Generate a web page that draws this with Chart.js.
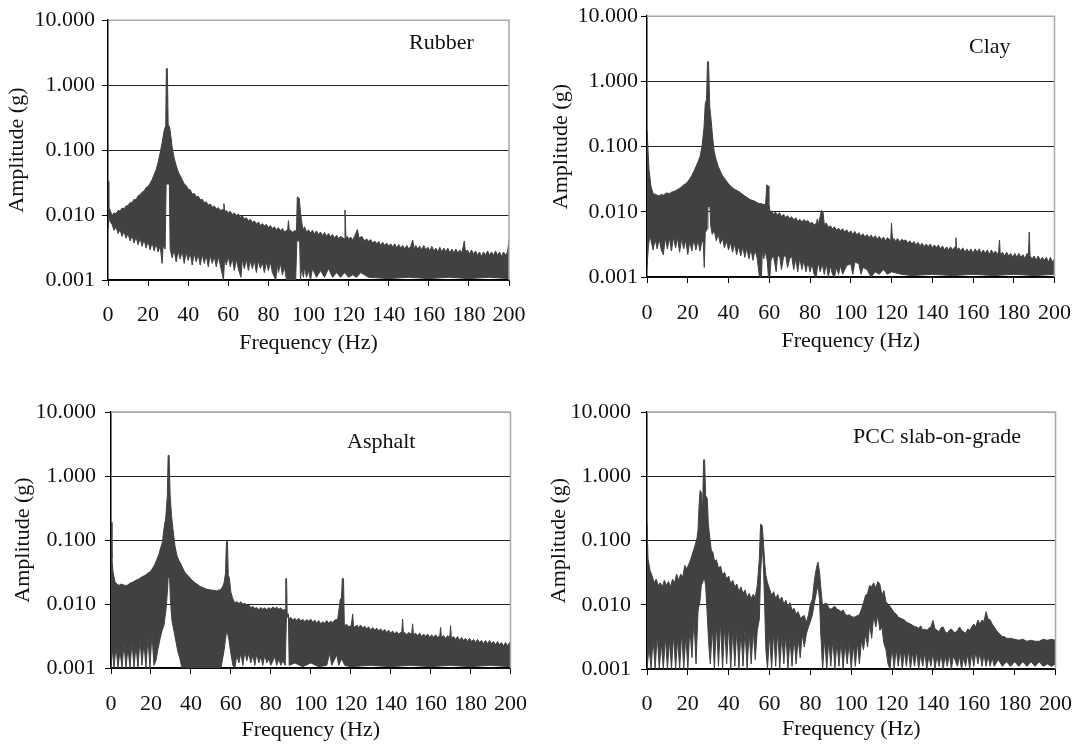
<!DOCTYPE html>
<html>
<head>
<meta charset="utf-8">
<script src="https://cdn.jsdelivr.net/npm/chart.js@4.4.1/dist/chart.umd.min.js"></script>
<style>
  body { margin: 0; background: #fff; }
  #wrap { position: relative; width: 1088px; height: 744px; }
  canvas { position: absolute; }
</style>
</head>
<body>
<div id="wrap">
  <canvas id="rubber" width="544" height="372" style="left:0;top:0"></canvas>
  <canvas id="clay" width="544" height="372" style="left:544px;top:0"></canvas>
  <canvas id="asphalt" width="544" height="372" style="left:0;top:372px"></canvas>
  <canvas id="pcc" width="544" height="372" style="left:544px;top:372px"></canvas>
</div>
<script>
const yTicks = [0.001, 0.01, 0.1, 1, 10];
const xMin = 0, xMax = 200, xStep = 20;

// [Hz, g]: top edge and bottom edge of each dense spectrum
const rubberHigh = [
  [0,0.033],[0.4,0.013],[1,0.012],[2,0.0098],[3,0.0108],[4,0.0105],[5,0.0118],[6,0.0115],[7,0.0128],[8,0.0125],
  [9,0.0138],[10,0.014],[11,0.0155],[12,0.0155],[13,0.0175],[14,0.0172],[15,0.0198],[16,0.0205],[17,0.0225],[18,0.0235],
  [19,0.0265],[20,0.0275],[21,0.031],[22,0.035],[23,0.042],[24,0.05],[25,0.065],[26,0.09],[27,0.13],[28,0.2],
  [28.8,0.24],[29.1,1.8],[29.6,1.8],[30,0.25],[30.8,0.22],[31.5,0.15],[32,0.11],[33,0.075],[34,0.058],[35,0.046],
  [36.5,0.038],[38,0.03],[39,0.0285],[40,0.025],[41,0.0245],[42,0.021],[43,0.0215],[44,0.0192],[45,0.0195],[46,0.0172],
  [47,0.0175],[48,0.0155],[49,0.016],[50,0.0142],[51,0.0148],[52,0.0132],[53,0.0138],[54,0.0124],[55,0.013],[56,0.0118],
  [57.4,0.0122],[57.8,0.015],[58.3,0.0112],[59,0.0118],[60,0.0108],[61,0.0114],[62,0.0102],[63,0.0108],[64,0.0098],[65,0.0104],
  [66,0.0092],[67,0.0097],[68,0.0087],[69,0.0091],[70,0.0081],[71,0.0086],[72,0.0077],[73,0.0081],[74,0.0073],[75,0.0078],
  [76,0.0069],[77,0.0074],[78,0.0068],[79,0.0072],[80,0.0064],[81,0.0069],[82,0.0062],[83,0.0066],[84,0.0059],[85,0.0064],
  [86,0.0057],[87,0.0062],[88,0.0055],[89.6,0.006],[90,0.0082],[90.5,0.0055],[91,0.0059],[92,0.0054],[93,0.0058],[94,0.0056],
  [94.4,0.019],[95.4,0.018],[96,0.011],[96.5,0.0085],[97.2,0.0058],[98,0.0066],[99,0.0055],[100,0.0059],[101,0.0053],[102,0.0058],
  [103,0.0051],[104,0.0057],[105,0.005],[106,0.0055],[107,0.0048],[108,0.0054],[109,0.0047],[110,0.0052],[111,0.0046],[112,0.005],
  [113,0.0044],[114,0.0049],[115,0.0043],[116,0.0047],[117.8,0.0043],[118.2,0.012],[118.7,0.0044],[119.4,0.0047],[120,0.0042],[121,0.0046],
  [122,0.0041],[123,0.0047],[124.4,0.006],[125.2,0.0044],[126.5,0.0047],[128,0.004],[129,0.0043],[130,0.0039],[131,0.0042],[132,0.0037],
  [133,0.004],[134,0.0036],[135,0.0039],[136,0.0034],[137,0.0038],[138,0.0034],[139,0.0037],[140,0.0033],[141,0.0036],[142,0.0032],
  [143,0.0036],[144,0.0031],[145,0.0035],[146,0.0031],[147,0.0034],[148,0.003],[149,0.0034],[150,0.003],[151,0.0033],[152,0.0041],
  [152.6,0.003],[153.5,0.0034],[154.5,0.003],[155.5,0.0033],[156.5,0.0029],[157.5,0.0034],[158.5,0.0029],[159.5,0.0032],[160.5,0.0028],[161.5,0.0033],
  [162.5,0.0028],[163.5,0.0031],[164.5,0.0027],[165.5,0.0032],[166.5,0.0027],[167.5,0.0031],[168.5,0.0027],[169.5,0.0031],[170.5,0.0026],[171.5,0.003],
  [172.5,0.0026],[173.5,0.003],[174.5,0.0026],[175.5,0.0029],[176.5,0.0026],[177.7,0.004],[178.3,0.0027],[179.3,0.0029],[180.3,0.0025],[181.3,0.0029],
  [182.3,0.0025],[183.3,0.0028],[184.3,0.0024],[185.3,0.0027],[186.3,0.0023],[187.3,0.0027],[188.3,0.0024],[189.3,0.0028],[190.3,0.0024],[191.3,0.0027],
  [192.3,0.0024],[193.3,0.0028],[194.3,0.0024],[195.3,0.0027],[196.3,0.0023],[197.3,0.0027],[198.3,0.0024],[199.3,0.0027],[200,0.0042]
];
const rubberLow = [
  [0,0.006],[0.5,0.0095],[1,0.008],[2,0.0072],[3,0.0058],[4,0.0066],[5,0.0052],[6,0.006],[7,0.0047],[8,0.0056],
  [9,0.0044],[10,0.0052],[11,0.004],[12,0.0048],[13,0.0037],[14,0.0046],[15,0.0035],[16,0.0044],[17,0.0033],[18,0.0042],
  [19,0.0031],[20,0.004],[21,0.0029],[22,0.0038],[23,0.0028],[24,0.0036],[25,0.0027],[26,0.0034],[27,0.0018],[27.5,0.0034],
  [28.5,0.003],[29,0.03],[30.6,0.03],[31,0.003],[32,0.0022],[33,0.0029],[34,0.0019],[35,0.0028],[36,0.0021],[37,0.0028],
  [38,0.0018],[39,0.0027],[40,0.002],[41,0.0026],[42,0.0017],[43,0.0026],[44,0.0019],[45,0.0025],[46,0.0017],[47,0.0025],
  [48,0.0018],[49,0.0024],[50,0.0016],[51,0.0024],[52,0.0018],[53,0.0023],[54,0.0016],[55,0.0023],[56,0.0017],[57.6,0.001],
  [58.2,0.0023],[59,0.0017],[60,0.0023],[61,0.0016],[62,0.0022],[63,0.0014],[64,0.0021],[65,0.0015],[66.3,0.0011],[67,0.0021],
  [68,0.0015],[69,0.0021],[70,0.0014],[71,0.002],[72,0.0015],[73,0.002],[74,0.0013],[75,0.002],[76,0.0015],[77,0.0019],
  [78,0.0013],[79,0.0019],[80,0.0014],[81,0.0019],[82,0.0013],[83.7,0.001],[84.4,0.0018],[85,0.0013],[86,0.0018],[87,0.0012],
  [88,0.0016],[89,0.001],[93.6,0.001],[94.2,0.004],[95.6,0.004],[96,0.001],[96.5,0.0015],[97.5,0.0011],[98,0.0016],[99,0.0011],
  [100,0.0014],[101,0.001],[102,0.0015],[104,0.0011],[106,0.0014],[108,0.0011],[110,0.0015],[112,0.0011],[114,0.0013],[116,0.0011],
  [118,0.0013],[120,0.0011],[122,0.0012],[124,0.0011],[126,0.0013],[130,0.0011],[140,0.00105],[150,0.0011],[160,0.00105],[170,0.0011],
  [180,0.00105],[190,0.0011],[200,0.00105]
];

const clayHigh = [
  [0,0.18],[0.5,0.088],[1,0.044],[2,0.024],[3,0.019],[4,0.0185],[5,0.018],[6,0.0175],[7,0.0185],[8,0.018],
  [9,0.019],[10,0.0195],[11,0.019],[12,0.02],[13,0.0205],[14,0.021],[15,0.022],[16,0.023],[17,0.024],[18,0.026],
  [19,0.027],[20,0.029],[21,0.032],[22,0.036],[23,0.042],[24,0.049],[25,0.058],[26,0.07],[27,0.1],[28,0.2],
  [28.6,0.46],[29.2,0.52],[29.7,2.0],[30.2,2.0],[30.8,0.41],[31.5,0.25],[32.2,0.14],[33,0.083],[34,0.062],[35,0.049],
  [36,0.042],[37,0.036],[38.5,0.031],[40,0.027],[41.5,0.024],[43,0.022],[44.5,0.021],[46,0.0195],[48,0.0175],[50,0.0158],
  [51.5,0.015],[53,0.0145],[54.5,0.0135],[56,0.0133],[57,0.013],[58.2,0.013],[58.8,0.026],[59.4,0.025],[59.8,0.014],[60.4,0.0095],
  [61,0.0104],[62,0.0092],[63,0.0099],[64,0.0089],[65,0.0097],[66,0.0085],[67,0.0091],[68,0.0082],[69,0.0087],[70,0.0079],
  [71,0.0084],[72,0.0075],[73,0.0081],[74,0.0071],[75,0.0077],[76,0.007],[77,0.0076],[78,0.0071],[79,0.0073],[80,0.0066],
  [81,0.0069],[82,0.0063],[83.2,0.0067],[83.6,0.0078],[84,0.0063],[85,0.0085],[85.6,0.0105],[86.4,0.0098],[87,0.0064],[88,0.0067],
  [89,0.0058],[90,0.0061],[91,0.0055],[92,0.0059],[93,0.0052],[94,0.0056],[95,0.0051],[96,0.0055],[97,0.0049],[98,0.0053],
  [99,0.0047],[100,0.0051],[101,0.0045],[102,0.005],[103,0.0044],[104,0.0048],[105,0.0042],[106,0.0046],[107,0.0041],[108,0.0045],
  [109,0.004],[110,0.0044],[111,0.0039],[112,0.0043],[113,0.0038],[114,0.0042],[115,0.0037],[116,0.0041],[117,0.0036],[118,0.004],
  [119.6,0.0036],[120,0.0067],[120.5,0.0037],[121.3,0.0039],[122,0.0035],[123,0.0039],[124,0.0034],[125,0.0038],[126,0.0036],[127,0.0037],
  [128,0.0033],[129,0.0036],[130,0.0032],[131,0.0035],[132,0.0031],[133,0.0034],[134,0.003],[135,0.0033],[136,0.0029],[137,0.0032],
  [138,0.0029],[139,0.0032],[140,0.0028],[141,0.0031],[142,0.0028],[143,0.0031],[144,0.0027],[145,0.003],[146,0.0026],[147,0.0029],
  [148,0.0026],[149,0.0029],[150,0.0026],[151.2,0.0029],[151.6,0.004],[152,0.0026],[153,0.0028],[154,0.0025],[155,0.0028],[156,0.0024],
  [157,0.0027],[158,0.0024],[159,0.0027],[160,0.0023],[161,0.0027],[162,0.0024],[163,0.0027],[164,0.0023],[165,0.0026],[166,0.0023],
  [167,0.0026],[168,0.0022],[169,0.0026],[170,0.0023],[171,0.0025],[172,0.0022],[172.6,0.0025],[173,0.0037],[173.4,0.0022],[174.5,0.0024],
  [175.5,0.0021],[176.5,0.0024],[177.5,0.0021],[178.5,0.0023],[179.5,0.002],[180.5,0.0023],[181.5,0.002],[182.5,0.0023],[183.5,0.002],[184.5,0.0022],
  [185.5,0.0019],[186.5,0.0023],[187.2,0.0021],[187.6,0.0049],[188,0.0021],[189,0.0019],[190,0.0021],[191,0.0018],[192,0.0021],[193,0.0018],
  [194,0.002],[195,0.0018],[196,0.002],[197,0.0017],[198,0.002],[199,0.0017],[200,0.0019]
];
const clayLow = [
  [0,0.0014],[0.7,0.003],[1.5,0.0045],[2,0.0036],[3,0.0026],[4,0.0038],[5,0.0027],[6,0.0039],[7,0.0026],[8,0.0022],
  [9,0.004],[10,0.0027],[11,0.004],[12,0.0025],[13,0.0041],[14,0.0028],[15,0.004],[16,0.0024],[17,0.0039],[18,0.0027],
  [19,0.0037],[20,0.0022],[21,0.0036],[22,0.0025],[23,0.0038],[24,0.0026],[25,0.0037],[26,0.0025],[27,0.0036],[27.6,0.0034],
  [28.1,0.0014],[28.6,0.0048],[29.6,0.0055],[29.9,0.012],[30.9,0.012],[31.3,0.006],[32,0.0045],[33,0.0052],[34,0.0036],[35,0.0045],
  [36,0.0032],[37,0.004],[38,0.0028],[39,0.0036],[40,0.0026],[41,0.0034],[42,0.0024],[43,0.0032],[44,0.0022],[45,0.003],
  [46,0.0021],[47,0.0029],[48,0.002],[49,0.0028],[50,0.0019],[51,0.0027],[52,0.0018],[53,0.0026],[54,0.002],[55.2,0.001],
  [56.2,0.001],[56.6,0.0026],[57.3,0.0019],[58,0.0025],[59,0.0018],[59.6,0.001],[60.3,0.001],[60.8,0.0018],[62,0.0022],[63.4,0.0012],
  [64,0.002],[65,0.0022],[66,0.0013],[67,0.002],[68,0.0022],[69,0.0014],[70,0.0019],[71,0.0021],[72,0.0013],[73,0.0019],
  [74,0.0012],[75,0.002],[76,0.0013],[77,0.0018],[78,0.0012],[79,0.0017],[80,0.0012],[81,0.0016],[82,0.0011],[83,0.001],
  [84,0.0017],[85,0.0012],[86,0.0016],[87,0.0011],[88,0.0016],[89,0.001],[90,0.0015],[91,0.0011],[92,0.001],[93,0.0014],
  [94,0.0011],[95,0.0015],[96,0.0011],[98,0.0015],[100,0.0016],[101,0.0011],[102,0.0017],[104,0.0016],[105,0.0011],[106,0.0014],
  [108,0.0013],[110,0.001],[112,0.0012],[114,0.0011],[116,0.0013],[118,0.0011],[120,0.0012],[125,0.0011],[130,0.00105],[140,0.0011],
  [150,0.00105],[160,0.0011],[170,0.00105],[180,0.0011],[190,0.00105],[200,0.0011]
];

const asphaltHigh = [
  [0,0.19],[0.5,0.051],[1,0.032],[2,0.022],[3,0.0205],[4,0.0195],[5,0.0205],[6,0.02],[7,0.0195],[8,0.0195],
  [9,0.0205],[10,0.0215],[11,0.022],[12,0.023],[13,0.024],[14,0.0245],[15,0.026],[16,0.027],[17,0.028],[18,0.0296],
  [19,0.031],[20,0.033],[21,0.037],[22,0.042],[23,0.05],[24,0.06],[25,0.078],[25.8,0.095],[26.5,0.15],[27.4,0.22],
  [28.2,0.5],[28.6,2.1],[29.1,2.1],[29.6,0.5],[30.3,0.24],[31,0.15],[32,0.082],[33,0.057],[34,0.048],[35,0.042],
  [36,0.036],[37,0.031],[38.5,0.028],[40,0.0245],[41.5,0.022],[43,0.0205],[44.5,0.019],[46,0.018],[48,0.017],[50,0.0165],
  [52,0.0163],[53,0.016],[54,0.0165],[55,0.0168],[56,0.019],[56.6,0.0215],[57.3,0.03],[57.8,0.095],[58.3,0.095],[58.7,0.028],
  [59.2,0.026],[60,0.0153],[61,0.012],[62,0.0104],[63,0.0109],[64,0.0102],[65,0.0108],[66,0.0099],[67,0.0103],[68,0.0093],
  [69,0.0097],[70,0.0087],[71,0.0092],[72,0.0085],[73,0.0088],[74,0.0081],[75,0.0088],[76,0.0083],[77,0.0087],[78,0.0081],
  [79,0.0088],[80,0.0083],[81,0.009],[82,0.0085],[83,0.0089],[84,0.0083],[85,0.0087],[86,0.008],[87.2,0.0082],[87.5,0.025],
  [87.9,0.025],[88.2,0.0065],[89,0.0058],[90,0.0062],[91,0.0056],[92,0.006],[93,0.0055],[94,0.006],[95,0.0054],[96,0.0058],
  [97,0.0053],[98,0.0057],[99,0.0054],[100,0.0058],[101,0.0052],[102,0.0056],[103,0.005],[104,0.0055],[105,0.0049],[106,0.0053],
  [107,0.005],[108,0.0055],[109,0.005],[110,0.0054],[111,0.0051],[112,0.0056],[113.5,0.0058],[114.8,0.012],[115.4,0.0125],[115.8,0.025],
  [116.4,0.025],[116.8,0.005],[117.5,0.0045],[118,0.0048],[119,0.0044],[120.3,0.0046],[121,0.007],[121.4,0.0046],[122,0.0043],[123,0.0047],
  [124,0.0043],[125,0.0047],[126,0.0042],[127,0.0045],[128,0.0041],[129,0.0044],[130,0.0039],[131,0.0043],[132,0.0039],[133,0.0042],
  [134,0.0038],[135,0.0041],[136,0.0037],[137,0.004],[138,0.0036],[139,0.0039],[140,0.0035],[141,0.0038],[142,0.0034],[143,0.0037],
  [144,0.0034],[145.6,0.0037],[146,0.0058],[146.4,0.0034],[147,0.0036],[148,0.0033],[149,0.0036],[150,0.0034],[150.6,0.0036],[151,0.0049],
  [151.4,0.0033],[152.5,0.0035],[153.5,0.0032],[154.5,0.0035],[155.5,0.0031],[156.5,0.0034],[157.5,0.0031],[158.5,0.0034],[159.5,0.003],[160.5,0.0033],
  [161.5,0.003],[162.5,0.0033],[163.5,0.003],[164.6,0.0032],[165,0.0043],[165.4,0.003],[166.5,0.0032],[167.5,0.0029],[168.5,0.0032],[169.6,0.003],
  [170,0.0046],[170.4,0.0029],[171.5,0.0031],[172.5,0.0028],[173.5,0.0031],[174.5,0.0027],[175.5,0.003],[176.5,0.0027],[177.5,0.0029],[178.5,0.0026],
  [179.5,0.0029],[180.5,0.0026],[181.5,0.0028],[182.5,0.0025],[183.5,0.0028],[184.5,0.0025],[185.5,0.0027],[186.5,0.0024],[187.5,0.0027],[188.5,0.0024],
  [189.5,0.0027],[190.5,0.0024],[191.5,0.0026],[192.5,0.0023],[193.5,0.0026],[194.5,0.0023],[195.5,0.0025],[196.5,0.0022],[197.5,0.0025],[198.5,0.0022],
  [199.5,0.0025],[200,0.0023]
];
const asphaltLow = [
  [0,0.001],[0.8,0.002],[1.5,0.001],[2.5,0.0022],[3.5,0.001],[4.5,0.0019],[5.5,0.001],[6.5,0.0024],[7.5,0.001],[8.5,0.0021],
  [9.5,0.001],[10.5,0.0026],[11.5,0.001],[12.5,0.0023],[13.5,0.001],[14.5,0.0028],[15.5,0.0011],[16.5,0.0025],[17.5,0.001],[18.5,0.003],
  [19.5,0.001],[20.5,0.0035],[21.5,0.0011],[22.5,0.0013],[23.5,0.002],[24.5,0.0028],[25.5,0.0038],[26.5,0.0046],[27.5,0.008],[28.2,0.015],
  [28.6,0.026],[29.3,0.026],[29.8,0.011],[30.5,0.0055],[31.5,0.0038],[32.5,0.0026],[33.5,0.0018],[34.5,0.0014],[35.5,0.001],[36,0.0009],
  [55,0.0009],[55.5,0.0012],[56.5,0.0018],[57.3,0.0028],[57.8,0.0036],[58.3,0.0036],[59,0.0028],[60,0.0017],[61,0.0011],[62,0.001],
  [63,0.0016],[64,0.0012],[65,0.0017],[66,0.0011],[67,0.0018],[68,0.0013],[69,0.0017],[70,0.0012],[71,0.0016],[72,0.0011],
  [73,0.0017],[74,0.0012],[75,0.0015],[76,0.0011],[77,0.0016],[78,0.0012],[79,0.0014],[80,0.0011],[82,0.0015],[83,0.0011],
  [84,0.0014],[85,0.0011],[86,0.0013],[87.2,0.0011],[87.9,0.007],[88.8,0.007],[89.2,0.0011],[92,0.0012],[96,0.00105],[100,0.0012],
  [104,0.00105],[108,0.0011],[109.5,0.0017],[110.5,0.0011],[113,0.0016],[114,0.0011],[115.5,0.0014],[117,0.0011],[120,0.00105],[130,0.0011],
  [140,0.00105],[150,0.0011],[160,0.00105],[170,0.0011],[180,0.00105],[190,0.0011],[200,0.00105]
];

const pccHigh = [
  [0,0.19],[0.5,0.052],[1.5,0.034],[2.5,0.028],[3.5,0.022],[4.5,0.025],[5.5,0.02],[6.5,0.022],[7.5,0.019],[8.5,0.024],
  [9.5,0.02],[10.5,0.023],[11.5,0.019],[12.5,0.025],[13.5,0.022],[14.5,0.03],[15.5,0.024],[16.5,0.03],[17.5,0.027],[18.5,0.041],
  [19.5,0.036],[20.5,0.043],[21.5,0.052],[22.5,0.066],[23.5,0.083],[24.5,0.11],[25,0.15],[25.5,0.35],[26,0.6],[26.6,0.56],
  [27.2,0.27],[27.7,1.8],[28.2,1.8],[28.7,0.5],[29.5,0.45],[30,0.19],[30.8,0.106],[31.5,0.07],[32.3,0.065],[33,0.048],
  [34,0.05],[35,0.037],[36,0.04],[37,0.029],[38,0.032],[39,0.025],[40,0.028],[41,0.021],[42,0.024],[43,0.019],
  [44,0.021],[45,0.016],[46,0.019],[47,0.015],[48,0.017],[49,0.013],[50,0.015],[51,0.0125],[52,0.0145],[53,0.013],
  [54,0.02],[55,0.052],[55.6,0.18],[56.4,0.17],[57,0.094],[57.6,0.046],[58.2,0.0285],[59,0.022],[60,0.0176],[61,0.014],
  [62,0.016],[63,0.0125],[64,0.0145],[65,0.0115],[66,0.0132],[67,0.0102],[68,0.0118],[69,0.0092],[70,0.0108],[71,0.0082],
  [72,0.0088],[73,0.0072],[74,0.0078],[75,0.0062],[76,0.0065],[77,0.0068],[78,0.0053],[79,0.0068],[80,0.0103],[81,0.0123],
  [82,0.025],[83,0.038],[83.7,0.046],[84.5,0.032],[85,0.02],[86,0.0092],[87,0.0105],[88,0.0105],[89,0.009],[90,0.0085],
  [91,0.009],[92,0.0095],[93,0.0085],[94,0.0083],[95,0.0078],[96,0.0083],[97,0.0072],[98,0.0068],[99,0.007],[100,0.0066],
  [101,0.0064],[102,0.0065],[103,0.0068],[104,0.007],[105,0.0085],[106,0.0107],[107,0.014],[108,0.015],[109,0.02],[110,0.019],
  [111,0.022],[112,0.018],[113,0.023],[114,0.021],[115,0.014],[116,0.0166],[117,0.011],[118,0.0103],[119,0.0094],[120,0.0085],
  [121,0.0075],[122,0.0072],[123,0.0064],[124,0.0062],[125,0.006],[126,0.0058],[127,0.0054],[128,0.0052],[129,0.005],[130,0.0048],
  [131,0.0046],[132,0.0045],[133,0.0043],[134,0.0047],[135,0.004],[136,0.0042],[137,0.004],[138,0.0043],[139,0.0045],[140,0.0057],
  [141,0.0042],[142,0.004],[143,0.0038],[144,0.0044],[145,0.0045],[146,0.0038],[147,0.0036],[148,0.004],[149,0.0042],[150,0.0038],
  [151,0.0037],[152,0.004],[153,0.0045],[154,0.004],[155,0.0038],[156,0.0036],[157,0.0042],[158,0.004],[159,0.0045],[160,0.005],
  [161,0.0045],[162,0.0058],[163,0.005],[164,0.0058],[165,0.0055],[166,0.0078],[167,0.006],[168,0.0058],[169,0.005],[170,0.0045],
  [171,0.004],[172,0.0037],[173,0.0034],[174,0.0032],[175,0.0032],[176,0.003],[178,0.003],[180,0.0029],[182,0.0028],[184,0.0029],
  [186,0.0027],[188,0.0028],[190,0.0027],[192,0.0027],[194,0.0029],[196,0.0028],[198,0.0029],[200,0.0028]
];
const pccLow = [
  [0,0.001],[1,0.0022],[2,0.001],[3,0.003],[4,0.001],[5,0.0035],[6,0.001],[7,0.0026],[8,0.001],[9,0.0032],
  [10,0.001],[11,0.0028],[12,0.001],[13,0.0035],[14,0.001],[15,0.003],[16,0.001],[17,0.0038],[18,0.001],[19,0.0034],
  [20,0.001],[21,0.0045],[22,0.0015],[23,0.006],[24,0.0012],[25,0.008],[26,0.012],[26.6,0.02],[27.2,0.022],[27.7,0.025],
  [28.2,0.025],[28.7,0.02],[29.5,0.007],[30.2,0.0025],[31,0.0012],[32,0.0045],[33,0.001],[34,0.005],[35,0.0011],[36,0.0055],
  [37,0.001],[38,0.0048],[39,0.0012],[40,0.005],[41,0.001],[42,0.0042],[43,0.0011],[44,0.0045],[45,0.001],[46,0.004],
  [47,0.0011],[48,0.0042],[49,0.001],[50,0.0038],[51,0.0012],[52,0.004],[53,0.0014],[54,0.004],[55,0.006],[55.6,0.03],
  [56.4,0.09],[57,0.04],[57.6,0.01],[58.2,0.002],[59,0.001],[60,0.0035],[61,0.001],[62,0.0038],[63,0.0011],[64,0.004],
  [65,0.001],[66,0.0034],[67,0.0012],[68,0.0036],[69,0.001],[70,0.003],[71,0.0011],[72,0.0032],[73,0.0012],[74,0.003],
  [75,0.0015],[76,0.0035],[77,0.0022],[78,0.0035],[79,0.0045],[80,0.0055],[81,0.007],[82,0.011],[83,0.016],[83.7,0.02],
  [84.5,0.012],[85,0.004],[86,0.001],[87,0.003],[88,0.001],[89,0.0028],[90,0.0011],[91,0.003],[92,0.001],[93,0.0027],
  [94,0.0011],[95,0.0028],[96,0.001],[97,0.0025],[98,0.0012],[99,0.0026],[100,0.001],[101,0.0024],[102,0.0011],[103,0.0026],
  [104,0.0012],[105,0.0028],[106,0.002],[107,0.0035],[108,0.0022],[109,0.005],[110,0.003],[111,0.0068],[112,0.0045],[113,0.007],
  [114,0.004],[115,0.0045],[116,0.0025],[117,0.002],[118,0.0012],[119,0.001],[120,0.0022],[121,0.001],[122,0.0021],[123,0.0011],
  [124,0.002],[125,0.001],[126,0.0019],[127,0.0011],[128,0.002],[129,0.001],[130,0.0018],[131,0.0011],[132,0.0019],[133,0.001],
  [134,0.0017],[135,0.0011],[136,0.0018],[137,0.001],[138,0.0016],[139,0.0011],[140,0.0018],[141,0.001],[142,0.0016],[143,0.0011],
  [144,0.0017],[145,0.001],[146,0.0016],[147,0.0011],[148,0.0017],[149,0.001],[150,0.0016],[152,0.0011],[153,0.0016],[154,0.001],
  [155,0.0015],[156,0.0011],[157,0.0017],[158,0.001],[159,0.0018],[160,0.0011],[161,0.0019],[162,0.0012],[163,0.0018],[164,0.0011],
  [165,0.0017],[166,0.0011],[167,0.0016],[168,0.0011],[169,0.0015],[170,0.0011],[172,0.0014],[174,0.0011],[176,0.0013],[178,0.0011],
  [180,0.0013],[182,0.0011],[184,0.0013],[186,0.0011],[188,0.0013],[190,0.0011],[192,0.0013],[194,0.0011],[196,0.0012],[198,0.0011],
  [200,0.0012]
];

const serif = "'Liberation Serif', 'Times New Roman', serif";
const ink = '#414141';

function toXY(pairs) {
  return pairs.map(p => ({ x: p[0], y: p[1] }));
}

// gray top/right frame plus the material name inside the plot
const frame = {
  id: 'frame',
  afterDraw(chart, args, opts) {
    const { ctx, chartArea: a } = chart;
    ctx.save();
    ctx.strokeStyle = '#a8a8a8';
    ctx.lineWidth = 1.5;
    ctx.beginPath();
    ctx.moveTo(a.left, a.top);
    ctx.lineTo(a.right, a.top);
    ctx.lineTo(a.right, a.bottom);
    ctx.stroke();
    ctx.fillStyle = '#111';
    ctx.font = '22px ' + serif;
    ctx.textBaseline = 'middle';
    ctx.fillText(opts.text, opts.x, opts.y);
    ctx.restore();
  }
};

function makePanel(id, name, high, low, box) {
  const h = 372;
  new Chart(document.getElementById(id), {
    type: 'line',
    data: {
      datasets: [
        { data: toXY(high), borderColor: ink, backgroundColor: ink, borderWidth: 1, pointRadius: 0, fill: '+1' },
        { data: toXY(low), borderColor: ink, backgroundColor: ink, borderWidth: 1, pointRadius: 0, fill: false }
      ]
    },
    options: {
      responsive: false,
      animation: false,
      events: [],
      layout: { padding: { left: 0, top: box.top, right: 544 - box.right, bottom: 0 } },
      plugins: {
        legend: { display: false },
        tooltip: { enabled: false },
        frame: { text: name, x: box.tagX, y: box.tagY }
      },
      scales: {
        x: {
          type: 'linear',
          min: xMin,
          max: xMax,
          afterFit(s) { s.height = h - box.bottom; },
          ticks: { stepSize: xStep, maxRotation: 0, autoSkip: false, padding: box.xPad, color: '#111', font: { family: serif, size: 22 } },
          grid: { drawOnChartArea: false, color: '#000', tickLength: 6 },
          border: { color: '#000', width: 1.5 },
          title: { display: true, text: 'Frequency (Hz)', color: '#111', font: { family: serif, size: 22 }, padding: { top: 0, bottom: box.xTitlePad } }
        },
        y: {
          type: 'logarithmic',
          min: yTicks[0],
          max: yTicks[yTicks.length - 1],
          afterFit(s) { s.width = box.left; },
          afterBuildTicks(s) { s.ticks = yTicks.map(v => ({ value: v, major: true })); },
          ticks: { padding: box.yPad, color: '#111', font: { family: serif, size: 22 }, callback: v => Number(v).toFixed(3) },
          grid: { color: c => (c.tick && c.tick.value === 10 ? '#a8a8a8' : '#222'), tickColor: '#000', tickLength: 6, lineWidth: 1 },
          border: { color: '#000', width: 1.5 },
          title: { display: true, text: 'Amplitude (g)', color: '#111', font: { family: serif, size: 22 }, padding: { top: box.yTitlePad, bottom: 0 } }
        }
      }
    },
    plugins: [frame]
  });
}

makePanel('rubber', 'Rubber', rubberHigh, rubberLow,
  { left: 108, top: 17, right: 509, bottom: 280, yPad: 7, xPad: 16, yTitlePad: 4, xTitlePad: 16, tagX: 409, tagY: 43 });
makePanel('clay', 'Clay', clayHigh, clayLow,
  { left: 103, top: 16, right: 517, bottom: 277, yPad: 3, xPad: 17, yTitlePad: 4, xTitlePad: 18, tagX: 425, tagY: 47 });
makePanel('asphalt', 'Asphalt', asphaltHigh, asphaltLow,
  { left: 111, top: 40, right: 512, bottom: 296, yPad: 9, xPad: 17, yTitlePad: 10, xTitlePad: 1, tagX: 347, tagY: 70 });
makePanel('pcc', 'PCC slab-on-grade', pccHigh, pccLow,
  { left: 103, top: 40, right: 519, bottom: 297, yPad: 10, xPad: 16, yTitlePad: 2, xTitlePad: 2, tagX: 309, tagY: 65 });
</script>
</body>
</html>
